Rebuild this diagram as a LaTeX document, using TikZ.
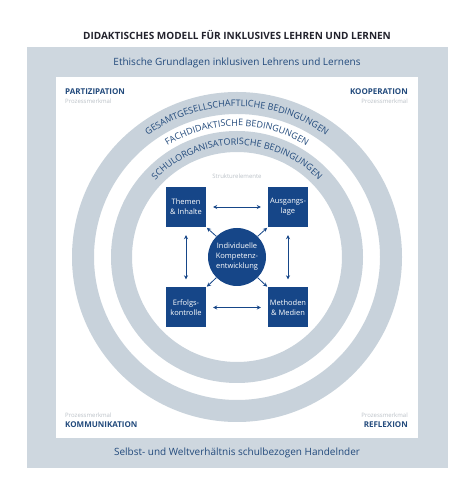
\documentclass[tikz,border=0pt]{standalone}
\usepackage{fontspec}
\setmainfont{Open Sans}
\usetikzlibrary{positioning,decorations.text,arrows.meta}
\definecolor{myframegray}{RGB}{206,215,223}
\definecolor{myringgray}{RGB}{200,210,219}
\definecolor{mydarkblue}{RGB}{22,70,136}
\definecolor{mytextblue}{RGB}{34,74,124}
\definecolor{mylightgray}{RGB}{188,194,200}
\definecolor{mytitle}{RGB}{35,35,45}
\newcommand{\widthbox}{40pt}
\newcommand{\radiuskern}{29pt}
\newcommand{\ringtext}[1]{|\fontsize{9}{9}\selectfont\color{mytextblue}|#1}
\tikzset{
    feld/.style={draw=none, fill=mydarkblue, text=white, minimum width=\widthbox, minimum height=\widthbox,
        inner sep=0pt, align=center, font=\fontsize{7.5}{10}\selectfont},
    kern/.style={feld, circle, minimum size=2*\radiuskern},
    merkmal/.style={text=mytextblue, font=\fontsize{8}{9}\selectfont\bfseries, inner sep=0pt},
    prozess/.style={text=mylightgray, font=\fontsize{6}{6}\selectfont, inner sep=0pt},
    zeile/.style={text=mytextblue, font=\fontsize{10}{12}\selectfont},
    pfeil/.style={mydarkblue, thick, -{Stealth[length=4pt, width=4pt]}},
    doppelpfeil/.style={pfeil, {Stealth[length=4pt, width=4pt]}-{Stealth[length=4pt, width=4pt]}},
    bogentext/.style={decorate, decoration={text along path, text align=center, text={#1}}}
}
\begin{document}
\begin{tikzpicture}[x=1pt, y=1pt]
    \useasboundingbox (0,0) rectangle (474,492);

    % rahmen
    \fill[myframegray] (27,24) rectangle (448,445);
    \fill[white] (56,54) rectangle (418,415);
    \node[font=\fontsize{10}{12}\selectfont\bfseries, text=mytitle] (titel) at (237,457)
        {DIDAKTISCHES MODELL FÜR INKLUSIVES LEHREN UND LERNEN};
    \node[zeile] (ethik) at (237,429) {Ethische Grundlagen inklusiven Lehrens und Lernens};
    \node[zeile] (selbst) at (237,39) {Selbst- und Weltverhältnis schulbezogen Handelnder};

    % ringe
    \coordinate (mitte) at (237,235);
    \fill[myringgray, even odd rule] (mitte) circle (165pt) circle (143pt);
    \fill[myringgray, even odd rule] (mitte) circle (126pt) circle (105pt);
    \path[bogentext={\ringtext{GESAMTGESELLSCHAFTLICHE BEDINGUNGEN}}]
        (mitte) ++(140:150.5pt) arc[start angle=140, end angle=40, radius=150.5pt];
    \path[bogentext={\ringtext{FACHDIDAKTISCHE BEDINGUNGEN}}]
        (mitte) ++(140:131pt) arc[start angle=140, end angle=40, radius=131pt];
    \path[bogentext={\ringtext{SCHULORGANISATORISCHE BEDINGUNGEN}}]
        (mitte) ++(150:112pt) arc[start angle=150, end angle=30, radius=112pt];

    % prozessmerkmale
    \node[merkmal, anchor=west] (partizipation) at (65,400) {PARTIZIPATION};
    \node[prozess, below=4pt of partizipation.south west, anchor=north west] (p1) {Prozessmerkmal};
    \node[merkmal, anchor=east] (kooperation) at (408,400) {KOOPERATION};
    \node[prozess, below=4pt of kooperation.south east, anchor=north east] (p2) {Prozessmerkmal};
    \node[merkmal, anchor=west] (kommunikation) at (65,67) {KOMMUNIKATION};
    \node[prozess, above=4pt of kommunikation.north west, anchor=south west] (p3) {Prozessmerkmal};
    \node[merkmal, anchor=east] (reflexion) at (408,67) {REFLEXION};
    \node[prozess, above=4pt of reflexion.north east, anchor=south east] (p4) {Prozessmerkmal};

    % strukturelemente
    \node[prozess] (struktur) at (237,316) {Strukturelemente};
    \node[kern] (kompetenz) at (mitte) {Individuelle\\Kompetenz-\\entwicklung};
    \node[feld] (themen) at (186,285) {Themen\\\& Inhalte};
    \node[feld] (ausgang) at (288,285) {Ausgangs-\\lage};
    \node[feld] (erfolg) at (186,184.5) {Erfolgs-\\kontrolle};
    \node[feld] (methoden) at (288,184.5) {Methoden\\\& Medien};

    \draw[doppelpfeil, shorten <=7pt, shorten >=7pt] (themen) -- (ausgang);
    \draw[doppelpfeil, shorten <=7pt, shorten >=7pt] (erfolg) -- (methoden);
    \draw[doppelpfeil, shorten <=8pt, shorten >=8pt] (themen) -- (erfolg);
    \draw[doppelpfeil, shorten <=8pt, shorten >=8pt] (ausgang) -- (methoden);
    \draw[pfeil, shorten >=1pt] (kompetenz.135) -- (themen.south east);
    \draw[pfeil, shorten >=1pt] (kompetenz.45) -- (ausgang.south west);
    \draw[pfeil, shorten >=1pt] (kompetenz.225) -- (erfolg.north east);
    \draw[pfeil, shorten >=1pt] (kompetenz.315) -- (methoden.north west);
\end{tikzpicture}
\end{document}
